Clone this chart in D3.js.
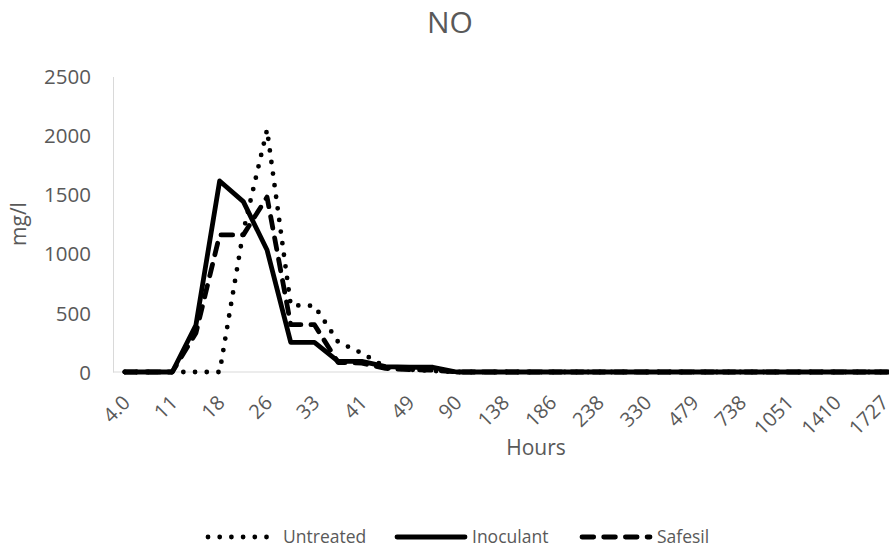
<!DOCTYPE html>
<html>
<head>
<meta charset="utf-8">
<script src="https://cdn.jsdelivr.net/npm/d3@7"></script>
<style>
  html, body { margin: 0; padding: 0; background: #fff; }
  svg { display: block; }
  text { font-family: "Open Sans", "Noto Sans", sans-serif; fill: #595959; }
</style>
</head>
<body>
<svg id="chart" width="889" height="551"></svg>
<script>
// Sampling times (hours); only every second sampling point carries a label
const hourLabels = ["4.0", "11", "18", "26", "33", "41", "49", "90", "138",
                    "186", "238", "330", "479", "738", "1051", "1410", "1727"];
const pointCount = 34;

// NO concentration (mg/l) at each sampling point
const untreated = [0, 0, 0, 0, 0, 1190, 2050, 565, 560, 254, 160, 42, 20, 10, 0,
                   0, 0, 0, 0, 0, 0, 0, 0, 0, 0, 0, 0, 0, 0, 0, 0, 0, 0, 0];
const inoculant = [0, 0, 0, 398, 1616, 1441, 1032, 250, 250, 90, 90, 45, 40, 40, 0,
                   0, 0, 0, 0, 0, 0, 0, 0, 0, 0, 0, 0, 0, 0, 0, 0, 0, 0, 0];
const safesil   = [0, 0, 0, 330, 1160, 1160, 1480, 400, 400, 80, 75, 30, 20, 15, 0,
                   0, 0, 0, 0, 0, 0, 0, 0, 0, 0, 0, 0, 0, 0, 0, 0, 0, 0, 0];

const yTicks = [0, 500, 1000, 1500, 2000, 2500];

const seriesNames = ["Untreated", "Inoculant", "Safesil"];
const seriesValues = [untreated, inoculant, safesil];
const seriesDash = ["0,11.7", null, "11.7,10"];

const svg = d3.select("#chart");

const plot = { left: 113, top: 76.5, bottom: 372, step: 23.7 };
plot.right = plot.left + plot.step * pointCount;

const x = d3.scalePoint()
  .domain(d3.range(pointCount))
  .range([plot.left + plot.step / 2, plot.right - plot.step / 2]);

const y = d3.scaleLinear().domain([0, 2500]).range([plot.bottom, plot.top]);

// Title
svg.append("text")
  .attr("x", 450).attr("y", 33)
  .attr("text-anchor", "middle")
  .style("font-size", "30px")
  .text("NO");

// Y axis
const yAxis = svg.append("g")
  .attr("transform", `translate(${plot.left},0)`)
  .call(d3.axisLeft(y).tickValues(yTicks).tickFormat(d3.format("d"))
    .tickSize(0).tickPadding(22));
yAxis.select(".domain").attr("stroke", "#d9d9d9").attr("stroke-width", 1);
yAxis.selectAll("text").style("font-size", "20.5px").attr("fill", "#595959")
  .attr("dy", "0.35em");

// X axis
const xAxis = svg.append("g")
  .attr("transform", `translate(0,${plot.bottom})`)
  .call(d3.axisBottom(x)
    .tickValues(d3.range(0, pointCount, 2).filter(i => i / 2 < hourLabels.length))
    .tickFormat(i => hourLabels[i / 2])
    .tickSize(0)
    .tickSizeOuter(0));
xAxis.select(".domain").remove();
xAxis.append("line")
  .attr("x1", plot.left).attr("x2", plot.right)
  .attr("y1", 0).attr("y2", 0)
  .attr("stroke", "#d9d9d9").attr("stroke-width", 1);
xAxis.selectAll(".tick text")
  .style("font-size", "20px")
  .attr("fill", "#595959")
  .attr("text-anchor", "end")
  .attr("dy", 0)
  .attr("y", 0)
  .attr("transform", "translate(6,32) rotate(-45)");

// Axis titles
svg.append("text")
  .attr("transform", "translate(26,224) rotate(-90)")
  .attr("text-anchor", "middle")
  .style("font-size", "21px")
  .text("mg/l");

svg.append("text")
  .attr("x", 536).attr("y", 455)
  .attr("text-anchor", "middle")
  .style("font-size", "21px")
  .text("Hours");

// Series lines
const line = d3.line().x((d, i) => x(i)).y(d => y(d));

seriesValues.forEach((vals, k) => {
  svg.append("path")
    .datum(vals)
    .attr("d", line)
    .attr("fill", "none")
    .attr("stroke", "#000")
    .attr("stroke-width", 4.8)
    .attr("stroke-linecap", "round")
    .attr("stroke-linejoin", "round")
    .attr("stroke-dasharray", seriesDash[k]);
});

// Legend
const legendItems = [
  { x: 208, textX: 283 },
  { x: 397, textX: 472 },
  { x: 582, textX: 657 }
];
const legendY = 537;
const legend = svg.append("g");
legendItems.forEach((it, k) => {
  legend.append("line")
    .attr("x1", it.x).attr("x2", it.x + 68)
    .attr("y1", legendY).attr("y2", legendY)
    .attr("stroke", "#000")
    .attr("stroke-width", 4.8)
    .attr("stroke-linecap", "round")
    .attr("stroke-dasharray", seriesDash[k]);
  legend.append("text")
    .attr("x", it.textX).attr("y", legendY + 6)
    .style("font-size", "17.5px")
    .text(seriesNames[k]);
});
</script>
</body>
</html>
